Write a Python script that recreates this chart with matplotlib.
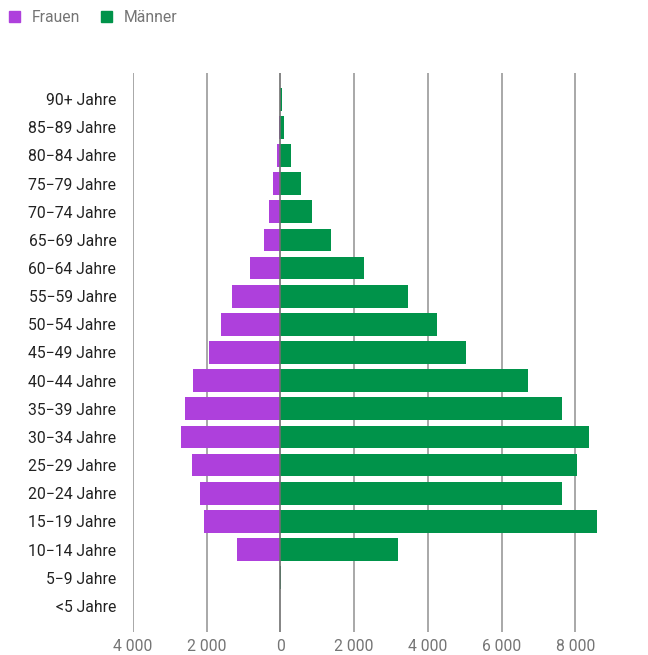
import matplotlib
matplotlib.use("Agg")
import matplotlib.pyplot as plt
from matplotlib.patches import Patch

categories = ["90+ Jahre", "85\u221289 Jahre", "80\u221284 Jahre", "75\u221279 Jahre", "70\u221274 Jahre",
              "65\u221269 Jahre", "60\u221264 Jahre", "55\u221259 Jahre", "50\u221254 Jahre", "45\u221249 Jahre",
              "40\u221244 Jahre", "35\u221239 Jahre", "30\u221234 Jahre", "25\u221229 Jahre", "20\u221224 Jahre",
              "15\u221219 Jahre", "10\u221214 Jahre", "5\u22129 Jahre", "<5 Jahre"]
frauen = [-5, -45, -100, -210, -320, -450, -833, -1322, -1620, -1946, -2380, -2597, -2706, -2407, -2190,
          -2082, -1186, 0, 0]
maenner = [30, 90, 280, 550, 850, 1360, 2260, 3455, 4242, 5029, 6712, 7634, 8368, 8042, 7634,
           8584, 3183, 20, 0]
xticks = [-4000, -2000, 0, 2000, 4000, 6000, 8000]
xticklabels = ["4 000", "2 000", "0", "2 000", "4 000", "6 000", "8 000"]

plt.rcParams['font.family'] = ['Roboto', 'DejaVu Sans']

purple = '#ae40dc'
green = '#00934a'

fig = plt.figure(figsize=(6.48, 6.55), dpi=100)
ax = fig.add_axes([133/648, 23/655, (630-133)/648, (632-73)/655])

y = list(range(len(categories)))
ax.barh(y, frauen, height=0.81, color=purple, zorder=2)
ax.barh(y, maenner, height=0.81, color=green, zorder=2)

ax.set_xlim(-4000, 9480)
ax.set_ylim(len(categories) - 1 + 0.93, -0.93)
ax.set_xticks(xticks)
ax.set_xticklabels(xticklabels)
ax.set_yticks(y)
ax.set_yticklabels(categories)
for x in xticks:
    if x == 0:
        ax.axvline(x, color='#6f6f6f', lw=1.2, zorder=3)
    else:
        ax.axvline(x, color='#9a9a9a', lw=1.2, zorder=1)

for s in ax.spines.values():
    s.set_visible(False)
ax.tick_params(axis='both', length=0)
ax.tick_params(axis='x', pad=5, labelsize=11.3, labelcolor='#757575')
ax.tick_params(axis='y', pad=12, labelsize=11.3, labelcolor='#222222')

handles = [Patch(color=purple, label='Frauen'), Patch(color=green, label='M\u00e4nner')]
leg = fig.legend(handles=handles, loc='upper left', bbox_to_anchor=(-0.003, 1.002), ncol=2, frameon=False,
                 handlelength=0.7, handleheight=0.7, handletextpad=0.75, columnspacing=1.3,
                 fontsize=11.3, borderaxespad=0.3)
for t in leg.get_texts():
    t.set_color('#757575')

fig.savefig('out.png', dpi=100)
